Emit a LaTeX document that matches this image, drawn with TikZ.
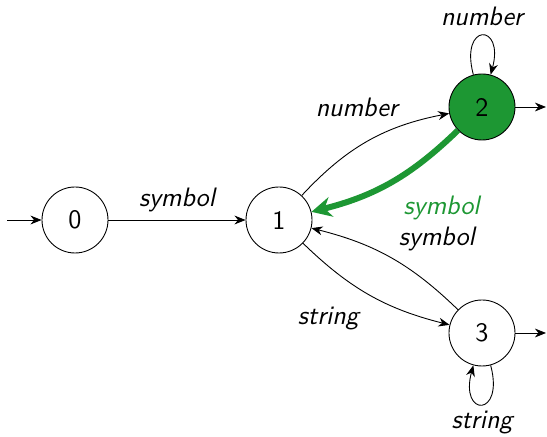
\documentclass[tikz,border=0pt]{standalone}
\usetikzlibrary{automata,arrows.meta}
\definecolor{dgreen}{RGB}{29,151,51}
\begin{document}
\begin{tikzpicture}[x=0.45pt,y=-0.45pt,
  font=\sffamily\large,
  >={Stealth[length=5pt,width=4pt]},
  st/.style={draw,circle,thin,minimum size=29.7pt,inner sep=0pt},
  lab/.style={font=\sffamily\itshape\large},
  every loop/.style={min distance=14pt,looseness=8}]
\useasboundingbox (0,0) rectangle (547,437);
\node[st] (q0) at (75,220) {0};
\node[st] (q1) at (279,220) {1};
\node[st,fill=dgreen] (q2) at (482,107) {2};
\node[st] (q3) at (482,333) {3};
\coordinate (i0) at (7,220);
\coordinate (f2) at (546,107);
\coordinate (f3) at (546,333);
\draw[->,thin] (i0) -- (q0);
\draw[->,thin] (q2) -- (f2);
\draw[->,thin] (q3) -- (f3);
\draw[->,thin] (q0) -- node[lab,above] {symbol} (q1);
\draw[->,thin] (q1) to[bend left=18] node[lab,above left,pos=0.45,xshift=20pt,yshift=9pt] {number} (q2);
\draw[->,line width=2.7pt,dgreen,-{Stealth[length=9pt,width=9pt]}] (q2) to[bend left=15] node[lab,below right,pos=0.35,dgreen,xshift=-8pt,yshift=-7pt] {symbol} (q1);
\draw[->,thin] (q3) to[bend right=15] node[lab,above right,pos=0.4,xshift=-6pt,yshift=3pt] {symbol} (q1);
\draw[->,thin] (q1) to[bend right=15] node[lab,below left,pos=0.4,xshift=4.5pt,yshift=-5.4pt] {string} (q3);
\draw[->,thin] (q2) to[loop above] node[lab,above,yshift=1pt] {number} (q2);
\draw[->,thin] (q3) to[loop below] node[lab,below,yshift=0.5pt] {string} (q3);
\end{tikzpicture}
\end{document}
